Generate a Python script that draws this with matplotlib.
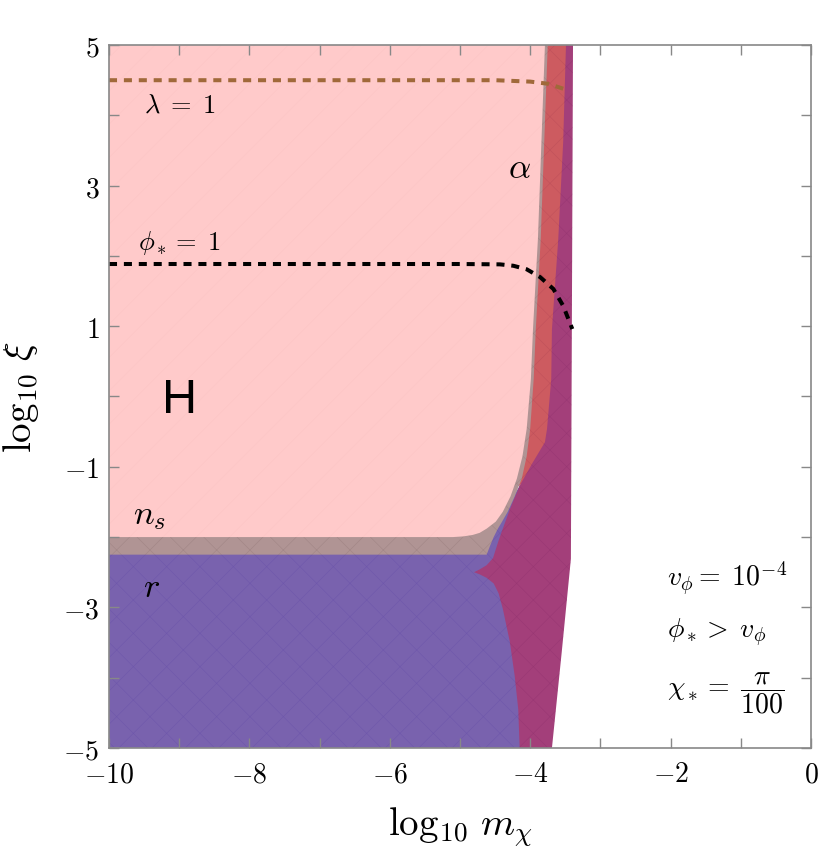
import matplotlib
matplotlib.use('Agg')
import matplotlib.pyplot as plt

plt.rcParams['mathtext.fontset'] = 'cm'
plt.rcParams['font.family'] = 'serif'
plt.rcParams['hatch.linewidth'] = 0.4

# region outlines, in (log10 m_chi, log10 xi)
# H region (pink), right edge from top to bottom, then back along the left
h_x = [-3.79, -3.84, -3.89, -3.96, -3.99, -4.05, -4.11, -4.19, -4.28, -4.39, -4.49,
       -4.62, -4.72, -4.82, -4.95, -5.1, -10, -10]
h_y = [5, 3.62, 2.24, 0.96, 0.25, -0.46, -0.85, -1.17, -1.42, -1.64, -1.78,
       -1.88, -1.94, -1.97, -1.99, -2.0, -2.0, 5]

# n_s region (grey band + thin strip along the H edge)
ns_x = [-3.75, -3.80, -3.85, -3.92, -3.95, -4.00, -4.05, -4.12, -4.22, -4.32, -4.40,
        -4.46, -4.52, -4.57, -4.62, -10, -10]
ns_y = [5, 3.62, 2.24, 0.96, 0.25, -0.46, -0.85, -1.17, -1.42, -1.64, -1.78,
        -1.88, -2.0, -2.12, -2.25, -2.25, 5]

# r region (blue)
r_x = [-10, -10, -4.6, -4.15, -4.0, -4.0]
r_y = [-5, -2.0, -2.0, -1.27, -1.5, -5]

# alpha region (red)
a_x = [-3.9, -3.45, -3.6, -4.15, -4.3, -4.1]
a_y = [5, 5, -0.65, -1.27, -1.27, 0.0]

# overlap region (purple)
m_x = [-3.49, -3.53, -3.60, -3.69, -3.70, -3.76, -3.79, -3.97, -4.15, -4.28, -4.39, -4.45, -4.53,
       -4.62, -4.72, -4.80, -4.72, -4.62, -4.52, -4.45, -4.39, -4.29, -4.22, -4.17, -4.15,
       -3.69, -3.55, -3.42, -3.39]
m_y = [5, 3.62, 2.24, 0.96, 0.25, -0.46, -0.65, -0.95, -1.27, -1.58, -1.88, -2.05, -2.30,
       -2.40, -2.46, -2.50, -2.53, -2.58, -2.66, -2.80, -3.02, -3.49, -3.98, -4.45, -5,
       -5, -3.63, -2.31, 5]

# lambda = 1 contour
lam_x = [-10, -4.5, -4.0, -3.75, -3.5]
lam_y = [4.5, 4.5, 4.48, 4.45, 4.37]

# phi_* = 1 contour
phi_x = [-10, -5.0, -4.43, -4.24, -4.05, -3.86, -3.67, -3.53, -3.40]
phi_y = [1.885, 1.885, 1.88, 1.86, 1.81, 1.70, 1.53, 1.29, 0.96]

xticks = list(range(-10, 1))
xlabels = ['$%d$' % t if t % 2 == 0 else '' for t in xticks]
yticks = list(range(-5, 6))
ylabels = ['$%d$' % t if t % 2 != 0 else '' for t in yticks]

fig = plt.figure(figsize=(8.3, 8.53), dpi=100)
ax = fig.add_axes([0.1313, 0.122, 0.8458, 0.824])

# draw order matters: later regions cover earlier ones
ax.fill(r_x, r_y, facecolor='#7962ae', edgecolor=(0.35, 0.25, 0.65, 0.3), hatch='x', linewidth=0)
ax.fill(a_x, a_y, facecolor='#cd5b60', edgecolor=(0.6, 0.2, 0.3, 0.25), hatch='x', linewidth=0)
ax.fill(ns_x, ns_y, facecolor='#b09494', edgecolor=(0.45, 0.35, 0.35, 0.25), hatch='x', linewidth=0)
ax.fill(h_x, h_y, facecolor='#ffcaca', edgecolor=(0.95, 0.7, 0.7, 0.2), hatch='/', linewidth=0)
ax.fill(m_x, m_y, facecolor='#a33f7a', edgecolor=(0.5, 0.15, 0.4, 0.3), hatch='x', linewidth=0)

ax.plot(lam_x, lam_y, color='#a0693a', lw=2.9, dashes=(2.0, 1.7))
ax.plot(phi_x, phi_y, color='black', lw=2.9, dashes=(2.0, 1.7))

ax.text(-8.99, 4.05, r'$\lambda\;=\;1$', fontsize=19, ha='center', va='baseline')
ax.text(-9.0, 2.10, r'$\phi_*=\;1$', fontsize=19, ha='center', va='baseline')
ax.text(-4.15, 3.12, r'$\alpha$', fontsize=25, ha='center', va='baseline')
ax.text(-9.0, -0.22, 'H', fontsize=35, family='Liberation Sans', ha='center', va='baseline')
ax.text(-9.66, -1.80, r'$n_s$', fontsize=25, ha='left', va='baseline')
ax.text(-9.52, -2.84, r'$r$', fontsize=25, ha='left', va='baseline')

ax.text(-2.05, -2.57, r'$v_\phi=\;10^{-4}$', fontsize=20, ha='left', va='center')
ax.text(-2.05, -3.35, r'$\phi_*>\;v_\phi$', fontsize=20, ha='left', va='center')
ax.text(-2.05, -4.20, r'$\chi_*=\;\dfrac{\pi}{100}$', fontsize=20, ha='left', va='center')

ax.set_xlim(-10, 0)
ax.set_ylim(-5, 5)
ax.set_xticks(xticks)
ax.set_xticklabels(xlabels)
ax.set_yticks(yticks)
ax.set_yticklabels(ylabels)
ax.tick_params(direction='in', length=7, width=1, color='#888888', labelsize=20,
               top=True, right=True)
ax.tick_params(axis='x', pad=9)
ax.tick_params(axis='y', pad=7)
for s in ax.spines.values():
    s.set_color('#888888')
    s.set_linewidth(1.2)

ax.set_xlabel(r'$\log_{10}\, m_\chi$', fontsize=28, labelpad=12)
ax.set_ylabel(r'$\log_{10}\, \xi$', fontsize=28, labelpad=16)

fig.savefig('out.png', dpi=100)
